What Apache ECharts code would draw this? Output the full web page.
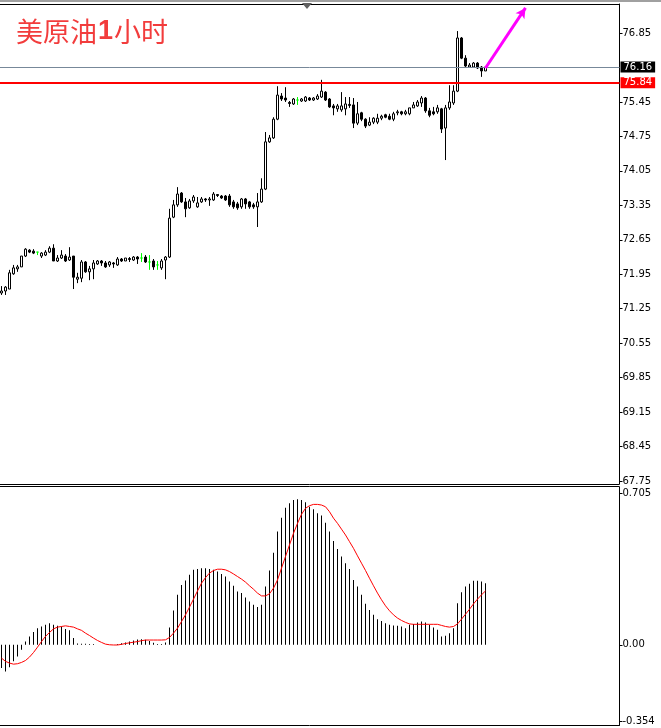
<!DOCTYPE html>
<html lang="zh">
<head>
<meta charset="UTF-8">
<title>美原油1小时</title>
<script src="https://cdn.jsdelivr.net/npm/echarts@6/dist/echarts.min.js"></script>
<style>
    html, body { margin: 0; padding: 0; background: #fff; }
    #chart { width: 661px; height: 728px; }
</style>
</head>
<body>
<div id="chart"></div>
<script>
    // hourly bars, oldest first
    const opens = [
        71.57, 71.61, 71.65, 71.96, 72.06, 72.10, 72.32, 72.44, 72.42, 72.40,
        72.32, 72.34, 72.40, 72.48, 72.22, 72.28, 72.32, 72.24, 72.32, 71.85,
        71.87, 72.20, 72.00, 72.06, 72.16, 72.22, 72.18, 72.14, 72.18, 72.14,
        72.26, 72.22, 72.27, 72.24, 72.30, 72.28, 72.30, 72.20, 72.22, 72.14,
        72.08, 72.24, 72.30, 73.11, 73.36, 73.60, 73.42, 73.30, 73.44, 73.32,
        73.42, 73.48, 73.46, 73.46, 73.57, 73.54, 73.54, 73.54, 73.42, 73.38,
        73.32, 73.48, 73.42, 73.36, 73.32, 73.42, 73.68, 74.64, 74.72, 75.10,
        75.57, 75.53, 75.44, 75.41, 75.49, 75.47, 75.47, 75.53, 75.49, 75.51,
        75.55, 75.65, 75.51, 75.37, 75.31, 75.29, 75.31, 75.40, 75.39, 75.02,
        75.23, 75.10, 74.98, 75.04, 75.04, 75.12, 75.19, 75.16, 75.10, 75.23,
        75.25, 75.21, 75.21, 75.33, 75.37, 75.43, 75.53, 75.27, 75.25, 75.25,
        75.31, 74.92, 75.33, 75.43, 75.67, 76.75, 76.34, 76.16, 76.16, 76.24,
        76.16, 76.08
    ];
    const closes = [
        71.61, 71.69, 71.98, 72.08, 72.10, 72.32, 72.46, 72.40, 72.38, 72.40,
        72.38, 72.40, 72.48, 72.22, 72.28, 72.34, 72.22, 72.30, 71.89, 71.89,
        72.20, 72.00, 72.06, 72.18, 72.22, 72.18, 72.10, 72.20, 72.16, 72.26,
        72.22, 72.28, 72.25, 72.30, 72.26, 72.28, 72.20, 72.20, 72.10, 72.14,
        72.22, 72.30, 73.09, 73.36, 73.58, 73.42, 73.28, 73.44, 73.52, 73.40,
        73.48, 73.46, 73.48, 73.58, 73.55, 73.50, 73.46, 73.36, 73.32, 73.30,
        73.48, 73.38, 73.32, 73.32, 73.42, 73.68, 74.64, 74.72, 75.10, 75.59,
        75.51, 75.49, 75.42, 75.51, 75.49, 75.51, 75.55, 75.49, 75.53, 75.57,
        75.67, 75.49, 75.35, 75.33, 75.37, 75.37, 75.41, 75.38, 75.02, 75.21,
        75.10, 74.96, 75.04, 75.12, 75.12, 75.16, 75.14, 75.10, 75.21, 75.25,
        75.21, 75.25, 75.33, 75.39, 75.45, 75.53, 75.27, 75.18, 75.21, 75.33,
        74.90, 75.33, 75.45, 75.67, 76.75, 76.34, 76.18, 76.20, 76.24, 76.14,
        76.08, 76.16
    ];
    const lows = [
        71.53, 71.53, 71.65, 71.94, 72.00, 72.10, 72.30, 72.38, 72.36, 72.34,
        72.28, 72.32, 72.38, 72.22, 72.20, 72.26, 72.20, 72.22, 71.65, 71.77,
        71.79, 71.98, 71.83, 71.85, 72.14, 72.12, 72.08, 72.10, 72.08, 72.12,
        72.20, 72.22, 72.20, 72.22, 72.16, 72.20, 72.18, 72.04, 72.04, 72.04,
        72.04, 71.85, 72.28, 73.09, 73.32, 73.40, 73.11, 73.28, 73.40, 73.30,
        73.40, 73.42, 73.34, 73.44, 73.52, 73.48, 73.44, 73.32, 73.28, 73.26,
        73.28, 73.28, 73.28, 73.28, 72.91, 73.40, 73.66, 74.62, 74.70, 75.08,
        75.47, 75.45, 75.35, 75.39, 75.39, 75.45, 75.45, 75.47, 75.47, 75.49,
        75.53, 75.47, 75.33, 75.18, 75.25, 75.25, 75.18, 75.33, 74.92, 74.98,
        75.06, 74.92, 74.96, 75.00, 75.00, 75.08, 75.12, 75.08, 75.06, 75.18,
        75.18, 75.18, 75.18, 75.33, 75.35, 75.35, 75.23, 75.14, 75.18, 75.21,
        74.82, 74.27, 75.29, 75.39, 75.65, 76.32, 76.16, 76.14, 76.14, 76.12,
        75.96, 76.08
    ];
    const highs = [
        71.71, 71.71, 72.04, 72.14, 72.14, 72.32, 72.48, 72.46, 72.46, 72.40,
        72.40, 72.44, 72.52, 72.56, 72.34, 72.44, 72.36, 72.50, 72.32, 71.98,
        72.24, 72.22, 72.12, 72.24, 72.24, 72.24, 72.22, 72.22, 72.20, 72.30,
        72.28, 72.28, 72.30, 72.32, 72.32, 72.38, 72.34, 72.34, 72.26, 72.22,
        72.26, 72.32, 73.28, 73.46, 73.72, 73.62, 73.50, 73.48, 73.56, 73.52,
        73.52, 73.50, 73.52, 73.62, 73.58, 73.56, 73.56, 73.58, 73.46, 73.42,
        73.50, 73.50, 73.44, 73.40, 73.60, 73.90, 74.84, 74.78, 75.14, 75.77,
        75.63, 75.75, 75.47, 75.53, 75.55, 75.53, 75.57, 75.55, 75.55, 75.61,
        75.90, 75.67, 75.53, 75.41, 75.41, 75.65, 75.55, 75.55, 75.53, 75.45,
        75.25, 75.12, 75.14, 75.14, 75.21, 75.19, 75.21, 75.21, 75.25, 75.29,
        75.27, 75.29, 75.33, 75.45, 75.49, 75.57, 75.55, 75.33, 75.35, 75.39,
        75.33, 75.39, 75.79, 75.79, 76.89, 76.77, 76.40, 76.24, 76.26, 76.26,
        76.18, 76.18
    ];

    // MACD pane
    const macdHist = [
        -0.108, -0.124, -0.104, -0.077, -0.054, -0.023, 0.015, 0.039, 0.059, 0.077,
        0.085, 0.093, 0.100, 0.093, 0.088, 0.085, 0.073, 0.067, 0.031, 0.006,
        0.005, 0.005, 0.004, 0.004, 0.000, 0.000, 0.000, 0.000, 0.000, 0.004,
        0.007, 0.011, 0.015, 0.020, 0.024, 0.026, 0.023, 0.018, 0.009, 0.004,
        0.004, 0.011, 0.080, 0.159, 0.232, 0.278, 0.298, 0.325, 0.348, 0.352,
        0.355, 0.355, 0.352, 0.348, 0.340, 0.329, 0.317, 0.294, 0.274, 0.247,
        0.240, 0.219, 0.201, 0.186, 0.175, 0.186, 0.271, 0.345, 0.428, 0.526,
        0.590, 0.637, 0.657, 0.673, 0.676, 0.673, 0.662, 0.641, 0.629, 0.611,
        0.600, 0.567, 0.526, 0.482, 0.445, 0.410, 0.379, 0.352, 0.301, 0.271,
        0.232, 0.190, 0.162, 0.139, 0.119, 0.111, 0.100, 0.093, 0.090, 0.088,
        0.085, 0.077, 0.093, 0.097, 0.104, 0.108, 0.104, 0.093, 0.080, 0.070,
        0.039, 0.042, 0.054, 0.077, 0.193, 0.244, 0.271, 0.283, 0.297, 0.297,
        0.294, 0.286
    ];
    const macdSignal = [
        -0.062, -0.077, -0.085, -0.090, -0.088, -0.082, -0.073, -0.057, -0.036, -0.011,
        0.015, 0.039, 0.057, 0.074, 0.082, 0.085, 0.088, 0.085, 0.082, 0.074,
        0.067, 0.054, 0.043, 0.031, 0.020, 0.011, 0.003, 0.000, -0.001, -0.001,
        0.002, 0.006, 0.009, 0.012, 0.015, 0.019, 0.022, 0.022, 0.022, 0.022,
        0.022, 0.023, 0.034, 0.054, 0.077, 0.108, 0.139, 0.175, 0.212, 0.250,
        0.286, 0.312, 0.333, 0.345, 0.351, 0.351, 0.348, 0.340, 0.329, 0.317,
        0.305, 0.291, 0.274, 0.258, 0.240, 0.227, 0.227, 0.237, 0.263, 0.301,
        0.356, 0.410, 0.464, 0.518, 0.564, 0.606, 0.634, 0.646, 0.652, 0.652,
        0.649, 0.641, 0.618, 0.588, 0.564, 0.537, 0.510, 0.479, 0.448, 0.413,
        0.379, 0.345, 0.309, 0.274, 0.240, 0.209, 0.181, 0.158, 0.139, 0.124,
        0.113, 0.104, 0.097, 0.095, 0.095, 0.095, 0.095, 0.095, 0.095, 0.095,
        0.090, 0.085, 0.082, 0.085, 0.097, 0.119, 0.142, 0.165, 0.190, 0.212,
        0.232, 0.250
    ];

    const priceTicks = [67.75, 68.45, 69.15, 69.85, 70.55, 71.25, 71.95, 72.65, 73.35, 74.05, 74.75, 75.45, 76.85];
    const macdTicks = [-0.354, 0, 0.705];
    const bidPrice = 76.16;
    const levelPrice = 75.84;
    // arrow drawn by hand on the chart: [slot, price] start and end
    const arrowFrom = [121, 76.14];
    const arrowTo = [131, 77.36];

    // 122 bars plus the empty shift area on the right
    const slotCount = 155;
    const slots = Array.from({ length: slotCount }, (_, i) => String(i));

    const candleData = opens.map((o, i) => {
        const item = { value: [o, closes[i], lows[i], highs[i]] };
        if (o === closes[i]) {
            // doji -> lime like MT4
            item.itemStyle = { color: '#00ff00', color0: '#00ff00', borderColor: '#00ff00', borderColor0: '#00ff00' };
        }
        return item;
    });

    const axisFont = { fontFamily: 'DejaVu Sans', fontSize: 10, color: '#000' };

    const chart = echarts.init(document.getElementById('chart'));
    chart.setOption({
        animation: false,
        backgroundColor: '#fff',
        title: {
            text: '{a|美原油}{b|1}{a|小时}',
            left: 11,
            top: 13,
            textStyle: {
                fontWeight: 'normal',
                rich: {
                    a: { fontFamily: 'Noto Sans CJK SC', fontSize: 27, fontWeight: 'normal', color: '#f23c3c' },
                    b: { fontFamily: 'Liberation Sans', fontSize: 27, fontWeight: 'bold', color: '#f23c3c', padding: [0, 1, 0, 1] }
                }
            }
        },
        grid: [
            { left: -0.5, right: 41.5, top: 4, bottom: 244, outerBoundsMode: 'none' },
            { left: -0.5, right: 41.5, top: 487, bottom: 3, outerBoundsMode: 'none' }
        ],
        xAxis: [
            { type: 'category', gridIndex: 0, data: slots, show: false },
            {
                type: 'category', gridIndex: 1, data: slots,
                axisLine: { onZero: false, lineStyle: { color: '#000', width: 1 } },
                axisTick: { alignWithLabel: true, length: 3, interval: (i) => i % 16 === 6, lineStyle: { color: '#000' } },
                axisLabel: { show: false }
            }
        ],
        yAxis: [
            {
                type: 'value', gridIndex: 0, position: 'right',
                min: 67.69, max: 77.44,
                axisLine: { show: true, lineStyle: { color: '#000', width: 1 } },
                axisTick: { show: true, length: 3, customValues: priceTicks, lineStyle: { color: '#000' } },
                axisLabel: Object.assign({ customValues: priceTicks, margin: 3, formatter: v => v.toFixed(2) }, axisFont),
                splitLine: { show: false }
            },
            {
                type: 'value', gridIndex: 1, position: 'right',
                min: -0.3726, max: 0.7328,
                axisLine: { show: true, lineStyle: { color: '#000', width: 1 } },
                axisTick: { show: true, length: 3, customValues: macdTicks, lineStyle: { color: '#000' } },
                axisLabel: Object.assign({ customValues: macdTicks, margin: 3, formatter: v => (v === 0 ? '0.00' : String(v)) }, axisFont),
                splitLine: { show: false }
            }
        ],
        series: [
            {
                type: 'candlestick',
                xAxisIndex: 0, yAxisIndex: 0,
                data: candleData,
                barWidth: 3,
                itemStyle: {
                    color: '#ffffff', color0: '#000000',
                    borderColor: '#000000', borderColor0: '#000000',
                    borderColorDoji: '#00ff00', borderWidth: 1
                },
                markLine: {
                    silent: true,
                    symbol: ['none', 'none'],
                    label: Object.assign({ position: 'end', distance: 1, padding: [1, 3, 0, 3], formatter: p => p.value.toFixed(2) }, axisFont, { color: '#fff' }),
                    data: [
                        { yAxis: bidPrice, lineStyle: { color: '#778899', width: 1, type: 'solid' }, label: { backgroundColor: '#000' } },
                        { yAxis: levelPrice, lineStyle: { color: '#ff0000', width: 2, type: 'solid' }, label: { backgroundColor: '#ff0000' } },
                        [
                            { coord: arrowFrom, symbol: 'none', lineStyle: { color: '#ff00ff', width: 3, type: 'solid' }, label: { show: false } },
                            { coord: arrowTo, symbol: 'arrow', symbolSize: [8, 10] }
                        ]
                    ]
                }
            },
            {
                type: 'bar',
                xAxisIndex: 1, yAxisIndex: 1,
                data: macdHist,
                barWidth: 1,
                itemStyle: { color: '#000' }
            },
            {
                type: 'line',
                xAxisIndex: 1, yAxisIndex: 1,
                data: macdSignal,
                showSymbol: false,
                lineStyle: { color: '#ff0000', width: 1 }
            }
        ],
        graphic: [
            { type: 'rect', shape: { x: 0, y: 0, width: 661, height: 2 }, style: { fill: '#a0a0a0' }, silent: true },
            { type: 'line', shape: { x1: 0, y1: 4.5, x2: 619.5, y2: 4.5 }, style: { stroke: '#000', lineWidth: 1 }, silent: true },
            { type: 'line', shape: { x1: 0, y1: 484.5, x2: 619.5, y2: 484.5 }, style: { stroke: '#000', lineWidth: 1 }, silent: true },
            { type: 'line', shape: { x1: 0, y1: 486.5, x2: 619.5, y2: 486.5 }, style: { stroke: '#000', lineWidth: 1 }, silent: true },
            { type: 'polygon', shape: { points: [[302, 3], [312, 3], [307, 9]] }, style: { fill: '#606060' }, silent: true }
        ]
    });
</script>
</body>
</html>
